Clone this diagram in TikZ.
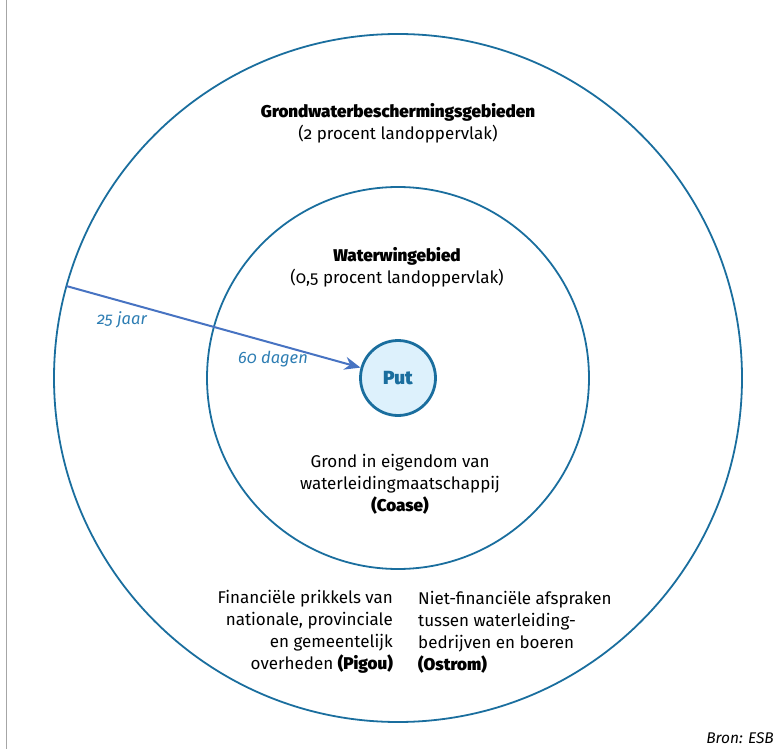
\documentclass[tikz,border=0pt]{standalone}
\usepackage{fontspec}
\setmainfont[Numbers=OldStyle,BoldFont={Fira Sans Black}]{Fira Sans}
\usetikzlibrary{arrows.meta,calc}

\definecolor{ringblue}{HTML}{1A6E9E}
\definecolor{putfill}{HTML}{DDF1FC}
\definecolor{arrowblue}{HTML}{4773C2}
\definecolor{labelblue}{HTML}{2D7DB3}

\tikzset{
  ring/.style={draw=ringblue,line width=1.8pt},
  zonetext/.style={font=\fontsize{17}{22}\selectfont,inner sep=0pt},
  timelabel/.style={font=\fontsize{16.5}{18}\selectfont\itshape,text=labelblue,inner sep=0pt}
}

\begin{document}
\begin{tikzpicture}[x=1pt,y=-1pt]
\useasboundingbox (0,0) rectangle (780,749);

\coordinate (O) at (398,378);

% frame line on the left
\draw[gray!70,line width=1.6pt] (6.5,0) -- (6.5,749);

\draw[ring] (O) circle[radius=344pt];
\draw[ring] (O) circle[radius=191pt];

\node[circle,draw=ringblue,fill=putfill,line width=2.8pt,minimum size=75pt,
      text=ringblue,font=\fontsize{19}{20}\selectfont\bfseries] (put) at (O) {Put};

\coordinate (edge) at ($(O)+(164.5:344pt)$);
\draw[arrowblue,line width=2pt,-{Stealth[length=16pt,width=13pt]}] (edge) -- (put);

\node[timelabel] (jaar) at (122,320) {25 jaar};
\node[timelabel] (dagen) at (273,359) {60 dagen};

\node[zonetext,align=center] (gwb) at (398,123)
  {\textbf{Grondwaterbeschermingsgebieden}\\(2 procent landoppervlak)};
\node[zonetext,align=center] (ww) at (397,267)
  {\textbf{Waterwingebied}\\(0,5 procent landoppervlak)};
\node[zonetext,align=center] (coase) at (400,484)
  {Grond in eigendom van\\waterleidingmaatschappij\\\textbf{(Coase)}};

\node[zonetext,align=right,anchor=east] (pigou) at (393,632)
  {Financiële prikkels van\\nationale, provinciale\\en gemeentelijk\\overheden \textbf{(Pigou)}};
\node[zonetext,align=left,anchor=west] (ostrom) at (418,632)
  {Niet-financiële afspraken\\tussen waterleiding-\\bedrijven en boeren\\\textbf{(Ostrom)}};

\node[font=\fontsize{15.5}{17}\selectfont\itshape,anchor=east,inner sep=0pt] (bron) at (774,738) {Bron: ESB};

\end{tikzpicture}
\end{document}
